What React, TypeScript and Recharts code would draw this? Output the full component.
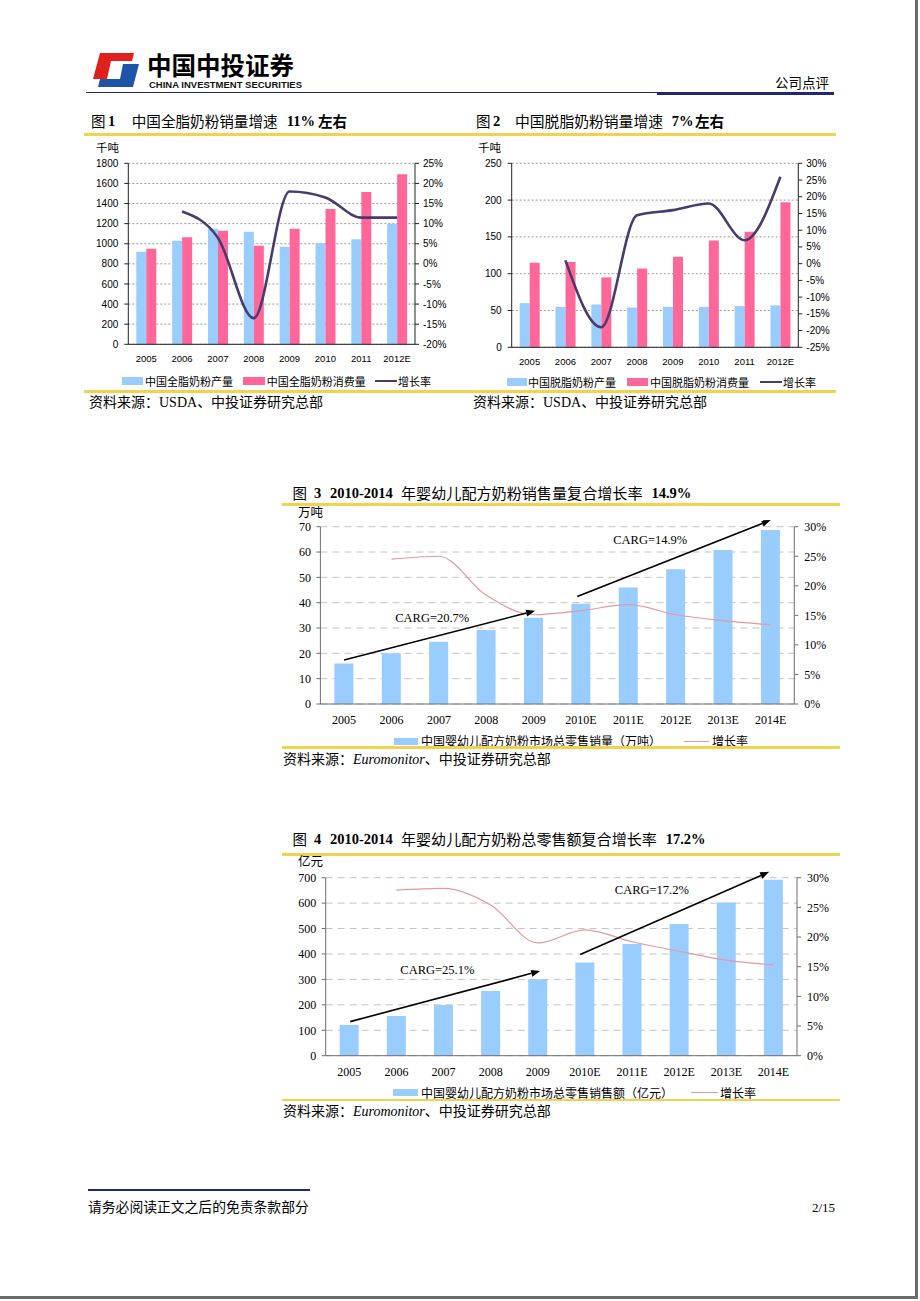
import {
  Bar,
  CartesianGrid,
  ComposedChart,
  Line,
  ReferenceDot,
  ReferenceLine,
  XAxis,
  YAxis,
} from "recharts";

const CJK = '"Noto Sans CJK SC", sans-serif';
const SERIF = '"Liberation Serif", "Times New Roman", serif';
const SANS = '"Liberation Sans", Arial, sans-serif';

const BLUE = "#99ccff";
const PINK = "#ff6699";
const PURPLE = "#4b3a6e";
const ROSE = "#e39a9a";
const YELLOW = "#f3d24e";
const NAVY = "#1f2870";

// 图1 / 图2 年份
const YEARS_A = ["2005", "2006", "2007", "2008", "2009", "2010", "2011", "2012E"];

// 图1 全脂奶粉（千吨）
const WHOLE_PROD = [920, 1030, 1150, 1120, 970, 1005, 1045, 1200];
const WHOLE_CONS = [950, 1065, 1130, 980, 1150, 1345, 1515, 1690];
const WHOLE_GROWTH = [null, 13, 6.5, -13.5, 18, 16.5, 11.5, 11.5];
const WHOLE_LEFT_TICKS = [0, 200, 400, 600, 800, 1000, 1200, 1400, 1600, 1800];
const WHOLE_RIGHT_TICKS = [-20, -15, -10, -5, 0, 5, 10, 15, 20, 25];

// 图2 脱脂奶粉（千吨）
const SKIM_PROD = [60, 55, 58, 54, 55, 55, 56, 57];
const SKIM_CONS = [115, 116, 95, 107, 123, 145, 157, 197];
const SKIM_GROWTH = [null, 1, -19, 14.5, 16, 18, 7, 26];
const SKIM_LEFT_TICKS = [0, 50, 100, 150, 200, 250];
const SKIM_RIGHT_TICKS = [-25, -20, -15, -10, -5, 0, 5, 10, 15, 20, 25, 30];

// 图3 / 图4 年份
const YEARS_B = ["2005", "2006", "2007", "2008", "2009", "2010E", "2011E", "2012E", "2013E", "2014E"];
const PCT_TICKS = [0, 5, 10, 15, 20, 25, 30];

// 图3 销量（万吨）
const INFANT_VOL = [16, 20, 24.6, 29.2, 34.1, 39.6, 46, 53.2, 60.8, 68.7];
const INFANT_VOL_GROWTH = [null, 24.5, 25, 18.4, 15.1, 15.8, 16.8, 15.1, 14.1, 13.4];
const VOL_TICKS = [0, 10, 20, 30, 40, 50, 60, 70];
// arrow ends in (category index, 万吨)
const VOL_ARROWS = [
  [{ x: 0, y: 17.4 }, { x: 4.03, y: 36.8 }],
  [{ x: 4.92, y: 42.4 }, { x: 9.0, y: 72.6 }],
];
const VOL_NOTES = [
  { x: 1.86, y: 34.1, text: "CARG=20.7%" },
  { x: 6.46, y: 65.1, text: "CARG=14.9%" },
];

// 图4 零售额（亿元）
const INFANT_VAL = [121, 156, 199, 254, 301, 367, 439, 518, 602, 692];
const INFANT_VAL_GROWTH = [null, 27.9, 28.2, 25.4, 19, 21.2, 19.2, 17.6, 16.1, 15.3];
const VAL_TICKS = [0, 100, 200, 300, 400, 500, 600, 700];
const VAL_ARROWS = [
  [{ x: 0.02, y: 134 }, { x: 4.05, y: 333 }],
  [{ x: 4.9, y: 398 }, { x: 8.91, y: 723 }],
];
const VAL_NOTES = [
  { x: 1.87, y: 337, text: "CARG=25.1%" },
  { x: 6.42, y: 654, text: "CARG=17.2%" },
];

const dataA = (prod: number[], cons: number[], growth: (number | null)[]) =>
  YEARS_A.map((year, i) => ({ year, prod: prod[i], cons: cons[i], growth: growth[i] }));
const dataB = (vals: number[], growth: (number | null)[]) =>
  YEARS_B.map((year, i) => ({ year, idx: i, value: vals[i], growth: growth[i] }));

function T({ x, y, size, children, style }: any) {
  return (
    <span
      style={{
        position: "absolute",
        left: x,
        top: y - size / 2,
        fontSize: size,
        lineHeight: `${size}px`,
        whiteSpace: "nowrap",
        fontFamily: CJK,
        color: "#000",
        ...style,
      }}
    >
      {children}
    </span>
  );
}

function HLine({ x1, x2, y, h, color }: any) {
  return (
    <div style={{ position: "absolute", left: x1, top: y - h / 2, width: x2 - x1, height: h, background: color }} />
  );
}

function Arrow(p: any) {
  const { x1, y1, x2, y2 } = p;
  const ang = Math.atan2(y2 - y1, x2 - x1);
  const len = 9;
  const w = 3.5;
  const bx = x2 - len * Math.cos(ang);
  const by = y2 - len * Math.sin(ang);
  const nx = -Math.sin(ang) * w;
  const ny = Math.cos(ang) * w;
  return (
    <g>
      <line x1={x1} y1={y1} x2={bx} y2={by} stroke="#000" strokeWidth={1.6} />
      <polygon points={`${x2},${y2} ${bx + nx},${by + ny} ${bx - nx},${by - ny}`} fill="#000" />
    </g>
  );
}

function Swatch({ x, y, w, h, color }: any) {
  return <div style={{ position: "absolute", left: x, top: y - h / 2, width: w, height: h, background: color }} />;
}

function MilkChart({ left, data, leftTicks, rightTicks, leftW, rightW, bottom }: any) {
  const sansTick = { fontSize: 10, fill: "#000", fontFamily: SANS };
  return (
    <div style={{ position: "absolute", left, top: 150 }}>
      <ComposedChart
        width={370}
        height={230}
        data={data}
        barGap={0}
        margin={{ top: 13.3, right: 0, left: 0, bottom }}
      >
        <CartesianGrid vertical={false} stroke="#9a9a9a" strokeDasharray="2 2" yAxisId="l" />
        <XAxis
          dataKey="year"
          height={30}
          tick={{ fontSize: 9.5, fill: "#000", fontFamily: SANS }}
          tickLine={false}
          tickSize={0}
          tickMargin={11}
          axisLine={{ stroke: "#222" }}
        />
        <YAxis
          yAxisId="l"
          width={leftW}
          domain={[leftTicks[0], leftTicks[leftTicks.length - 1]]}
          ticks={leftTicks}
          interval={0}
          tick={sansTick}
          tickSize={4}
          tickMargin={6}
          axisLine={{ stroke: "#222" }}
          tickLine={{ stroke: "#222" }}
        />
        <YAxis
          yAxisId="r"
          orientation="right"
          width={rightW}
          domain={[rightTicks[0], rightTicks[rightTicks.length - 1]]}
          ticks={rightTicks}
          interval={0}
          tickFormatter={(v) => `${v}%`}
          tick={sansTick}
          tickSize={4}
          tickMargin={4}
          axisLine={{ stroke: "#222" }}
          tickLine={{ stroke: "#222" }}
        />
        <Bar yAxisId="l" dataKey="prod" fill={BLUE} barSize={10} isAnimationActive={false} />
        <Bar yAxisId="l" dataKey="cons" fill={PINK} barSize={10} isAnimationActive={false} />
        <Line
          yAxisId="r"
          type="monotone"
          dataKey="growth"
          stroke={PURPLE}
          strokeWidth={2.6}
          dot={false}
          isAnimationActive={false}
        />
      </ComposedChart>
    </div>
  );
}

function InfantChart({ top, height, data, ticks, leftW, rightW, marginTop, xHeight, bottom, arrows, notes }: any) {
  const serifTick = { fontSize: 12, fill: "#000", fontFamily: SERIF };
  // half a category band on each side, so index i sits on the centre of bar i
  const pad = (560 - leftW - rightW) / 20;
  return (
    <div style={{ position: "absolute", left: 280, top }}>
      <ComposedChart
        width={560}
        height={height}
        data={data}
        margin={{ top: marginTop, right: 0, left: 0, bottom }}
      >
        <CartesianGrid vertical={false} stroke="#c4c4c4" strokeDasharray="7 5" yAxisId="l" xAxisId="c" />
        <XAxis
          xAxisId="c"
          dataKey="year"
          height={xHeight}
          tick={serifTick}
          tickLine={false}
          tickSize={0}
          tickMargin={11.5}
          axisLine={{ stroke: "#6e6e6e" }}
        />
        <XAxis
          xAxisId="n"
          type="number"
          dataKey="idx"
          domain={[0, 9]}
          padding={{ left: pad, right: pad }}
          hide
        />
        <YAxis
          yAxisId="l"
          width={leftW}
          domain={[0, ticks[ticks.length - 1]]}
          ticks={ticks}
          interval={0}
          tick={serifTick}
          tickSize={4}
          tickMargin={5.5}
          axisLine={{ stroke: "#6e6e6e" }}
          tickLine={{ stroke: "#6e6e6e" }}
        />
        <YAxis
          yAxisId="r"
          orientation="right"
          width={rightW}
          domain={[0, 30]}
          ticks={PCT_TICKS}
          interval={0}
          tickFormatter={(v) => `${v}%`}
          tick={serifTick}
          tickSize={4}
          tickMargin={6}
          axisLine={{ stroke: "#6e6e6e" }}
          tickLine={{ stroke: "#6e6e6e" }}
        />
        <Bar xAxisId="c" yAxisId="l" dataKey="value" fill={BLUE} barSize={19} isAnimationActive={false} />
        <Line
          xAxisId="c"
          yAxisId="r"
          type="monotone"
          dataKey="growth"
          stroke={ROSE}
          strokeWidth={1.2}
          dot={false}
          isAnimationActive={false}
        />
        {arrows.map((seg: any, i: number) => (
          <ReferenceLine
            key={`a${i}`}
            xAxisId="n"
            yAxisId="l"
            segment={seg}
            ifOverflow="visible"
            shape={Arrow}
          />
        ))}
        {notes.map((n: any, i: number) => (
          <ReferenceDot
            key={`n${i}`}
            xAxisId="n"
            yAxisId="l"
            x={n.x}
            y={n.y}
            r={0}
            fill="none"
            stroke="none"
            ifOverflow="visible"
            label={{ value: n.text, position: "center", fontSize: 12.5, fill: "#000", fontFamily: SERIF }}
          />
        ))}
      </ComposedChart>
    </div>
  );
}

export default function App() {
  const bold = { fontFamily: SERIF, fontWeight: 700 };
  return (
    <div
      style={{
        position: "absolute",
        left: 0,
        top: 0,
        width: 920,
        height: 1301,
        background: "#fff",
        overflow: "hidden",
      }}
    >
      {/* page edge */}
      <div style={{ position: "absolute", left: 915, top: 0, width: 3, height: 1298, background: "#6b6b6b" }} />
      <div style={{ position: "absolute", left: 0, top: 1296, width: 918, height: 3, background: "#6b6b6b" }} />

      {/* header */}
      <svg style={{ position: "absolute", left: 86, top: 50 }} width={60} height={42}>
        <polygon points="14,3 48,3 46,11 25,11 21,29 7,29" fill="#e0201c" />
        <polygon points="37,14 53,14 47,37 12,37 14,29 34,29" fill="#1f55a8" />
      </svg>
      <T x={147} y={65} size={24.5} style={{ fontWeight: 700, lineHeight: "22px", top: 54 }}>
        中国中投证券
      </T>
      <svg style={{ position: "absolute", left: 148, top: 80 }} width={160} height={10}>
        <text
          x={1}
          y={7.5}
          textLength={153}
          lengthAdjust="spacingAndGlyphs"
          fontSize={9}
          fontWeight={700}
          fontFamily={SANS}
          fill="#111"
        >
          CHINA  INVESTMENT  SECURITIES
        </text>
      </svg>
      <T x={775} y={83} size={13.5}>
        公司点评
      </T>
      <HLine x1={86} x2={657} y={92.5} h={1} color={NAVY} />
      <HLine x1={657} x2={834} y={93} h={3} color={NAVY} />

      {/* 图1 / 图2 titles */}
      <T x={91} y={121} size={14.5}>
        图
      </T>
      <T x={108} y={121} size={14.5} style={bold}>
        1
      </T>
      <T x={131.7} y={121} size={14.6}>
        中国全脂奶粉销量增速
      </T>
      <T x={286.7} y={121} size={14.5} style={bold}>
        11%
      </T>
      <T x={318} y={121} size={14.5} style={{ fontWeight: 700 }}>
        左右
      </T>

      <T x={476} y={121} size={14.5}>
        图
      </T>
      <T x={493} y={121} size={14.5} style={bold}>
        2
      </T>
      <T x={515} y={121} size={14.8}>
        中国脱脂奶粉销量增速
      </T>
      <T x={671.7} y={121} size={14.5} style={bold}>
        7%
      </T>
      <T x={695} y={121} size={14.5} style={{ fontWeight: 700 }}>
        左右
      </T>

      <HLine x1={84} x2={836} y={134.5} h={2.5} color={YELLOW} />

      <T x={96} y={148} size={11.5}>
        千吨
      </T>
      <T x={478} y={148} size={11.5}>
        千吨
      </T>

      <MilkChart
        left={85}
        data={dataA(WHOLE_PROD, WHOLE_CONS, WHOLE_GROWTH)}
        leftTicks={WHOLE_LEFT_TICKS}
        rightTicks={WHOLE_RIGHT_TICKS}
        leftW={43.3}
        rightW={40}
        bottom={5.7}
      />
      <MilkChart
        left={470}
        data={dataA(SKIM_PROD, SKIM_CONS, SKIM_GROWTH)}
        leftTicks={SKIM_LEFT_TICKS}
        rightTicks={SKIM_RIGHT_TICKS}
        leftW={41.7}
        rightW={41.7}
        bottom={2.7}
      />

      {/* 图1 legend */}
      <Swatch x={121.7} y={381} w={21.6} h={8} color={BLUE} />
      <T x={145} y={381} size={11}>
        中国全脂奶粉产量
      </T>
      <Swatch x={243} y={381} w={22} h={8} color={PINK} />
      <T x={266.7} y={381} size={11}>
        中国全脂奶粉消费量
      </T>
      <Swatch x={375} y={381} w={22} h={2.6} color={PURPLE} />
      <T x={398} y={381} size={11}>
        增长率
      </T>

      {/* 图2 legend */}
      <Swatch x={506.7} y={382} w={20} h={8} color={BLUE} />
      <T x={528} y={382} size={11}>
        中国脱脂奶粉产量
      </T>
      <Swatch x={626.7} y={382} w={21.3} h={8} color={PINK} />
      <T x={650} y={382} size={11}>
        中国脱脂奶粉消费量
      </T>
      <Swatch x={760} y={382} w={22} h={2.6} color={PURPLE} />
      <T x={783} y={382} size={11}>
        增长率
      </T>

      <HLine x1={84} x2={836} y={391.5} h={2.5} color={YELLOW} />
      <T x={89} y={401} size={14}>
        资料来源：<span style={{ fontFamily: SERIF }}>USDA</span>、中投证券研究总部
      </T>
      <T x={473} y={401} size={14}>
        资料来源：<span style={{ fontFamily: SERIF }}>USDA</span>、中投证券研究总部
      </T>

      {/* 图3 */}
      <T x={292.5} y={493} size={14.5}>
        图
      </T>
      <T x={314} y={493} size={14.5} style={bold}>
        3
      </T>
      <T x={330} y={493} size={14.5} style={bold}>
        2010-2014
      </T>
      <T x={401} y={493} size={15.1}>
        年婴幼儿配方奶粉销售量复合增长率
      </T>
      <T x={651.4} y={493} size={14.5} style={bold}>
        14.9%
      </T>
      <HLine x1={282} x2={840} y={504.5} h={2.5} color={YELLOW} />
      <T x={298} y={512} size={12.5}>
        万吨
      </T>
      <InfantChart
        top={515}
        height={225}
        data={dataB(INFANT_VOL, INFANT_VOL_GROWTH)}
        ticks={VOL_TICKS}
        leftW={40.4}
        rightW={45.7}
        marginTop={11.7}
        xHeight={30}
        bottom={6}
        arrows={VOL_ARROWS}
        notes={VOL_NOTES}
      />
      <Swatch x={393.6} y={741.5} w={24} h={7.5} color={BLUE} />
      <T x={421} y={741} size={12}>
        中国婴幼儿配方奶粉市场总零售销量（万吨）
      </T>
      <Swatch x={683.6} y={741.5} w={25} h={1.3} color={ROSE} />
      <T x={712} y={741} size={12}>
        增长率
      </T>
      <HLine x1={282} x2={840} y={747.5} h={2.5} color={YELLOW} />
      <T x={283} y={757.5} size={14}>
        资料来源：<i style={{ fontFamily: SERIF }}>Euromonitor</i>、中投证券研究总部
      </T>

      {/* 图4 */}
      <T x={292.5} y={839} size={14.5}>
        图
      </T>
      <T x={314} y={839} size={14.5} style={bold}>
        4
      </T>
      <T x={330} y={839} size={14.5} style={bold}>
        2010-2014
      </T>
      <T x={401} y={839} size={15.05}>
        年婴幼儿配方奶粉总零售额复合增长率
      </T>
      <T x={665.7} y={839} size={14.5} style={bold}>
        17.2%
      </T>
      <HLine x1={282} x2={840} y={854.5} h={2.5} color={YELLOW} />
      <T x={298} y={861.5} size={12.5}>
        亿元
      </T>
      <InfantChart
        top={865}
        height={220}
        data={dataB(INFANT_VAL, INFANT_VAL_GROWTH)}
        ticks={VAL_TICKS}
        leftW={45.7}
        rightW={43}
        marginTop={12.7}
        xHeight={25}
        bottom={4.3}
        arrows={VAL_ARROWS}
        notes={VAL_NOTES}
      />
      <Swatch x={392.5} y={1092.5} w={25} h={7.5} color={BLUE} />
      <T x={421} y={1092.5} size={12}>
        中国婴幼儿配方奶粉市场总零售销售额（亿元）
      </T>
      <Swatch x={690.7} y={1092.5} w={27} h={1.3} color={ROSE} />
      <T x={720} y={1092.5} size={12}>
        增长率
      </T>
      <HLine x1={282} x2={840} y={1100} h={2.5} color={YELLOW} />
      <T x={283} y={1109.5} size={14}>
        资料来源：<i style={{ fontFamily: SERIF }}>Euromonitor</i>、中投证券研究总部
      </T>

      {/* footer */}
      <HLine x1={88} x2={310} y={1190} h={2} color={NAVY} />
      <T x={88} y={1207} size={13.8}>
        请务必阅读正文之后的免责条款部分
      </T>
      <T x={812} y={1207} size={13} style={{ fontFamily: SERIF }}>
        2/15
      </T>
    </div>
  );
}
